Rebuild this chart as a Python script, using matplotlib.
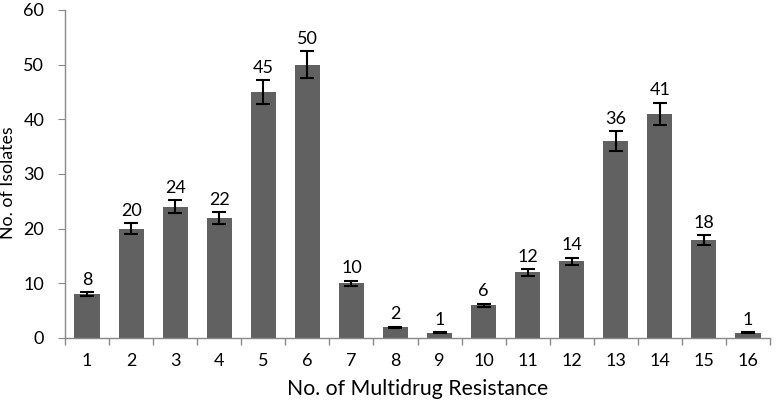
import matplotlib
matplotlib.use("Agg")
import matplotlib.pyplot as plt
import numpy as np

categories = [str(i) for i in range(1, 17)]
values = [8, 20, 24, 22, 45, 50, 10, 2, 1, 6, 12, 14, 36, 41, 18, 1]
errors = [v * 0.05 for v in values]
yticks = [0, 10, 20, 30, 40, 50, 60]

plt.rcParams['font.family'] = ['Lato', 'DejaVu Sans']

fig = plt.figure(figsize=(7.76, 4.13), dpi=100)
ax = fig.add_axes([65/776, (413-338)/413, (770-65)/776, (338-10)/413])

x = np.arange(len(values))
ax.bar(x, values, width=0.57, color='#616161', zorder=2)
ax.errorbar(x, values, yerr=errors, fmt='none', ecolor='black', elinewidth=1.5,
            capsize=5, capthick=1.5, zorder=3)
for xi, v, e in zip(x, values, errors):
    ax.annotate(str(v), (xi, v + e), xytext=(0, 3), textcoords='offset points',
                ha='center', va='bottom', fontsize=13)

ax.set_xlim(-0.5, len(values) - 0.5)
ax.set_ylim(0, 60)
ax.set_yticks(yticks)
ax.set_xticks(x)
ax.set_xticklabels(categories)
ax.set_xticks(np.arange(-0.5, len(values), 1), minor=True)
ax.tick_params(axis='x', which='major', length=0, pad=11, labelsize=13)
ax.tick_params(axis='x', which='minor', length=5, color='#898989', width=1)
ax.tick_params(axis='y', length=5, color='#898989', labelsize=13, pad=10)
for s in ['top', 'right']:
    ax.spines[s].set_visible(False)
for s in ['left', 'bottom']:
    ax.spines[s].set_color('#898989')
    ax.spines[s].set_linewidth(1)

ax.set_xlabel('No. of Multidrug Resistance', fontsize=15.3, labelpad=7)
ax.set_ylabel('No. of Isolates', fontsize=12.8)
ax.yaxis.set_label_coords(-0.069, 0.473)

fig.savefig('out.png', dpi=100)
